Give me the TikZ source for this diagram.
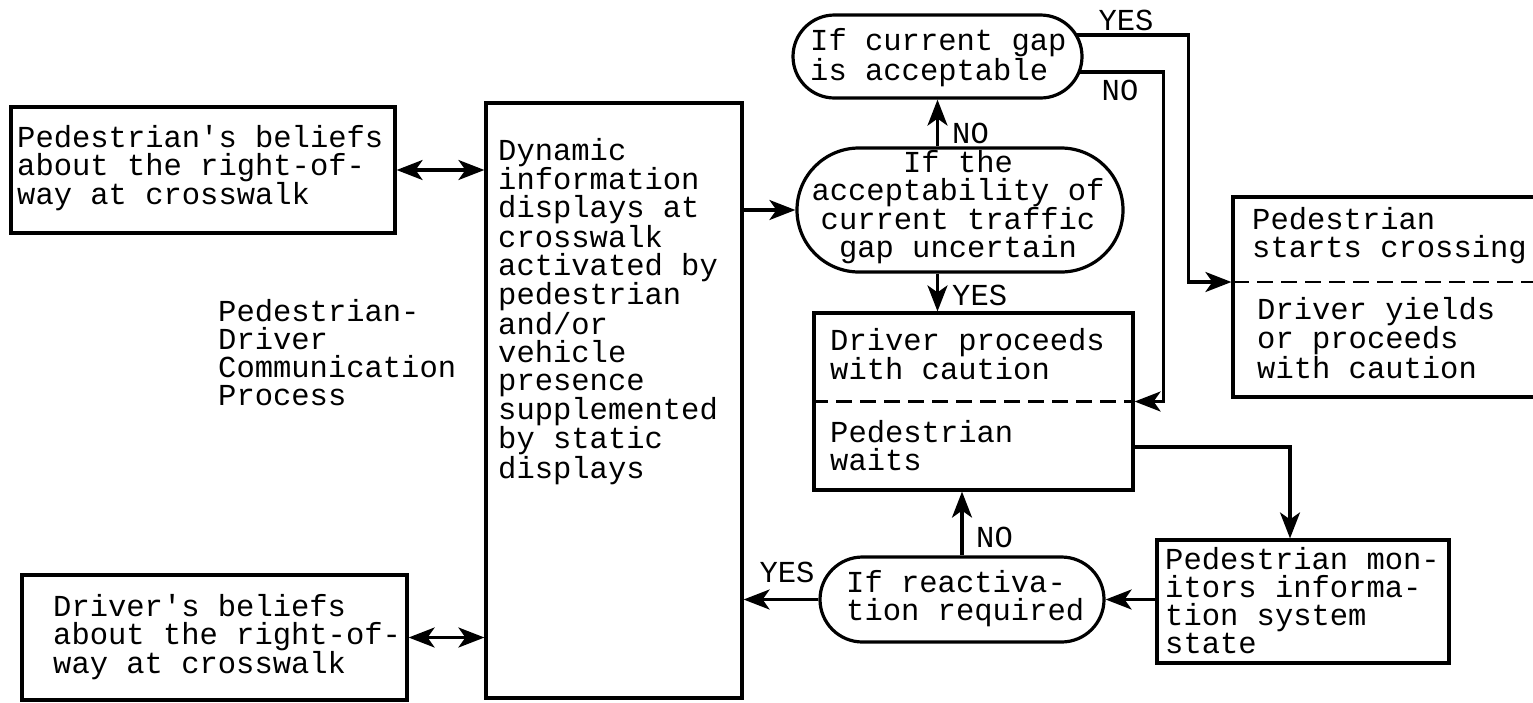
\documentclass[tikz,border=0pt]{standalone}
\usepackage{fontspec}
\setmonofont{Liberation Mono}
\usetikzlibrary{arrows.meta,shapes.misc,calc}
\begin{document}
\begin{tikzpicture}[x=1pt,y=-1pt,
  every node/.style={font=\ttfamily\fontsize{30.5}{28}\selectfont},
  box/.style={draw, line width=3.2pt, rectangle, inner sep=0pt},
  pill/.style={draw, line width=3.2pt, rounded rectangle, inner sep=0pt},
  txt/.style={align=left, inner sep=0pt, anchor=west},
  ctxt/.style={align=center, inner sep=0pt},
  tip/.style={},
  conn/.style={line width=3.2pt, -{Stealth[length=26pt,width=20pt,inset=7pt]}},
  dbl/.style={line width=3.2pt, {Stealth[length=26pt,width=20pt,inset=7pt]}-{Stealth[length=26pt,width=20pt,inset=7pt]}},
  dsh/.style={line width=2.8pt, dash pattern=on 16pt off 8pt},
  lbl/.style={inner sep=0pt}]
\useasboundingbox (0,0) rectangle (1533,702);

% boxes
\node[box, minimum width=384pt, minimum height=126pt] (ped) at (203,170) {};
\node[txt] (pedt) at (17,168) {Pedestrian's beliefs\\about the right-of-\\way at crosswalk};

\node[box, minimum width=385pt, minimum height=125pt] (drv) at (214.5,637.5) {};
\node[txt] (drvt) at (53,637) {Driver's beliefs\\about the right-of-\\way at crosswalk};

\node[txt] (comm) at (218,353) {Pedestrian-\\Driver\\Communication\\Process};

\node[box, minimum width=256pt, minimum height=595pt] (dyn) at (614,400.5) {};
\node[txt, anchor=north west] (dynt) at (498,138) {Dynamic\\information\\displays at\\crosswalk\\activated by\\pedestrian\\and/or\\vehicle\\presence\\supplemented\\by static\\displays};

\node[pill, minimum width=289pt, minimum height=83pt] (gap) at (937.5,56.5) {};
\node[txt] (gapt) at (810,57.5) {If current gap\\is acceptable};

\node[pill, minimum width=326pt, minimum height=124pt] (unc) at (960,210) {};
\node[ctxt] (unct) at (958,207) {If the\\acceptability of\\current traffic\\gap uncertain};

\node[box, minimum width=319pt, minimum height=177pt] (wait) at (973.5,401.5) {};
\draw[dsh] (wait.west) -- (wait.east);
\node[txt] (waitt1) at (830,354) {Driver proceeds\\with caution};
\node[txt] (waitt2) at (830,446) {Pedestrian\\waits};

\node[box, minimum width=312pt, minimum height=200pt] (start) at (1389,297) {};
\coordinate (sdash) at (1233,282);
\draw[dsh] (sdash) -- (sdash -| start.east);
\node[txt] (startt1) at (1252,236) {Pedestrian\\starts crossing};
\node[txt] (startt2) at (1257,338) {Driver yields\\or proceeds\\with caution};

\node[box, minimum width=292pt, minimum height=123pt] (mon) at (1303,601.5) {};
\node[txt] (mont) at (1165,601) {Pedestrian mon-\\itors informa-\\tion system\\state};

\node[pill, minimum width=284pt, minimum height=85pt] (react) at (962,599.5) {};
\node[txt] (reactt) at (846,598.5) {If reactiva-\\tion required};

% connectors
\draw[dbl] (ped.east) -- (ped.east -| dyn.west);
\draw[dbl] (drv.east) -- (drv.east -| dyn.west);
\draw[conn] (dyn.east |- unc.west) -- (unc.west);

\draw[conn] (gap.south |- unc.north) -- (gap.south);
\node[lbl, anchor=west] (no1) at (952,133) {NO};
\draw[conn] (gap.south |- unc.south) -- (gap.south |- wait.north);
\node[lbl, anchor=west] (yes1) at (952,295) {YES};

\coordinate (gy) at (1076,35);
\coordinate (sin) at (start.west |- sdash);
\draw[conn] (gy) -| ($(sin)+(-43,0)$) -- (sin);
\node[lbl] (yes2) at (1126,20) {YES};

\coordinate (gn) at (1079,72);
\draw[conn] (gn) -| ($(wait.east)+(29,0)$) -- (wait.east);
\node[lbl] (no2) at (1120,90) {NO};

\draw[conn] ($(wait.east)+(0,45.5)$) -| ($(mon.north)+(-13,0)$);
\draw[conn] (mon.west |- react.east) -- (react.east);
\draw[conn] (react.north) -- (react.north |- wait.south);
\node[lbl, anchor=west] (no3) at (976,537) {NO};
\draw[conn] (react.west) -- (react.west -| dyn.east);
\node[lbl] (yes3) at (787,572) {YES};
\end{tikzpicture}
\end{document}
